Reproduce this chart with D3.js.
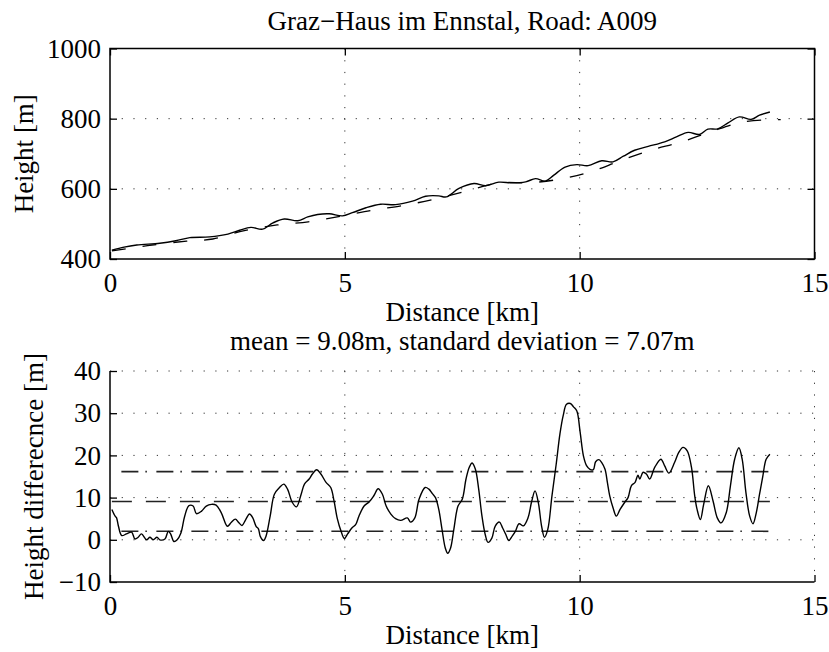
<!DOCTYPE html>
<html>
<head>
<meta charset="utf-8">
<script src="https://cdn.jsdelivr.net/npm/d3@7"></script>
<style>
  html, body { margin: 0; padding: 0; background: #fff; }
  svg { display: block; }
  svg text { font-family: 'Liberation Serif', 'DejaVu Serif', serif !important; fill: #000; }
</style>
</head>
<body>
<svg id="chart" width="829" height="652" font-family="Liberation Serif"></svg>
<script>
// ---------- DATA ----------
const titleTop = "Graz\u2212Haus im Ennstal, Road: A009";
const titleBottom = "mean = 9.08m, standard deviation = 7.07m";
const xLabel = "Distance [km]";
const yLabelTop = "Height [m]";
const yLabelBottom = "Height differecnce [m]";

const xTicks = [0, 5, 10, 15];
const yTicksTop = [400, 600, 800, 1000];
const yTicksBottom = [-10, 0, 10, 20, 30, 40];

// measured road height (solid)
const roadKm = [0.04,0.30,0.57,1.06,1.40,1.70,2.12,2.51,2.76,3.00,3.25,3.47,3.71,4.00,4.21,4.42,4.67,4.95,5.16,5.45,5.76,6.08,6.44,6.72,7.00,7.16,7.43,7.75,8.00,8.28,8.56,8.85,9.06,9.27,9.45,9.69,9.94,10.18,10.47,10.71,10.93,11.17,11.46,11.81,12.06,12.31,12.55,12.73,12.94,13.16,13.40,13.65,13.83,14.05];
const roadHeight = [425,434,440,445,452,461,463,471,482,490,485,503,514,509,520,527,529,523,532,546,556,555,565,579,580,577,601,615,609,619,617,620,629,622,639,662,669,666,680,677,693,710,721,734,748,761,755,770,771,788,805,798,810,819];

// reference height (dashed)
const refKm = [0.04,0.80,1.63,2.19,2.86,3.56,4.22,4.92,5.58,6.26,6.93,7.58,8.28,8.91,9.55,10.22,10.88,11.51,12.15,12.78,13.45,14.10,14.28];
const refHeight = [423,438,451,457,481,497,506,522,539,553,571,593,617,617,627,648,681,710,733,762,790,797,797];

// height difference (bottom plot)
const diffKm = [0.04,0.11,0.14,0.18,0.25,0.35,0.46,0.53,0.60,0.67,0.78,0.85,0.92,1.00,1.06,1.17,1.24,1.29,1.36,1.43,1.51,1.59,1.68,1.77,1.84,1.95,2.05,2.16,2.26,2.37,2.50,2.58,2.67,2.74,2.81,2.89,2.97,3.04,3.11,3.16,3.20,3.27,3.32,3.41,3.50,3.61,3.70,3.78,3.88,3.97,4.07,4.14,4.24,4.31,4.40,4.49,4.60,4.70,4.77,4.84,4.92,4.99,5.06,5.15,5.23,5.30,5.41,5.52,5.62,5.71,5.80,5.88,5.98,6.08,6.19,6.33,6.40,6.49,6.58,6.71,6.79,6.86,6.93,7.00,7.07,7.14,7.19,7.25,7.32,7.41,7.50,7.58,7.65,7.71,7.78,7.85,7.92,7.99,8.05,8.13,8.20,8.29,8.36,8.43,8.49,8.56,8.63,8.71,8.80,8.90,8.98,9.05,9.12,9.19,9.25,9.32,9.41,9.50,9.58,9.65,9.72,9.80,9.87,9.94,10.01,10.08,10.15,10.22,10.29,10.34,10.41,10.47,10.54,10.59,10.64,10.71,10.78,10.86,10.96,11.03,11.10,11.18,11.24,11.28,11.35,11.42,11.49,11.60,11.73,11.81,11.90,12.02,12.11,12.20,12.29,12.38,12.45,12.50,12.57,12.64,12.74,12.84,12.93,13.01,13.12,13.21,13.30,13.39,13.46,13.54,13.62,13.69,13.76,13.83,13.90,13.97,14.05];
const diffValue = [7.2,5.6,5.2,3.2,1.0,1.4,1.8,0.2,0.6,1.4,0.0,0.6,0.0,0.6,0.0,0.2,2.0,1.4,-0.4,0.0,1.6,5.6,8.1,8.0,6.2,6.8,8.0,8.4,8.2,6.4,3.2,4.1,4.9,4.1,3.4,4.8,6.1,5.2,3.2,2.6,0.8,-0.2,0.8,5.6,10.8,12.4,13.2,12.0,8.9,7.8,10.8,13.2,14.4,15.6,16.6,15.6,13.6,12.4,9.2,5.0,2.0,0.3,1.4,2.8,3.6,5.6,8.0,9.0,10.5,12.1,10.8,8.0,6.1,5.0,4.6,5.2,4.2,5.2,9.6,12.4,12.0,11.0,10.0,7.2,2.4,-2.0,-3.2,-2.0,2.4,8.0,9.6,14.4,17.2,18.2,16.7,12.0,5.6,1.2,-0.6,0.4,3.2,4.2,2.8,1.2,-0.2,0.8,2.0,3.8,3.3,5.2,9.2,11.6,8.8,3.2,0.6,2.4,10.4,17.9,25.1,29.5,32.1,32.3,31.5,30.5,25.5,19.9,17.5,16.7,16.6,18.5,19.0,18.3,16.7,13.6,10.4,7.6,5.6,7.2,8.9,10.0,12.8,13.6,15.3,14.4,16.0,15.6,14.4,17.2,19.1,17.5,15.8,18.3,20.7,21.9,21.1,17.2,10.4,7.2,4.8,8.4,12.8,9.2,5.2,4.0,6.4,12.8,19.1,21.8,19.1,11.2,5.6,3.8,6.4,10.8,15.1,19.1,20.3];

// statistics lines: mean - std, mean, mean + std
const statMean = 9.08;
const statLow = 2.01;
const statHigh = 16.15;

// ---------- DRAW ----------
const svg = d3.select("#chart");
const FONT = 27;
const FAMILY = "'Liberation Serif', 'DejaVu Serif', serif";
const L = 110, R = 814.5;
const top1 = 48.5, bot1 = 259;
const top2 = 371, bot2 = 582;
const cx = (L + R) / 2;

const x = d3.scaleLinear().domain([0, 15]).range([L, R]);
const y1 = d3.scaleLinear().domain([400, 1000]).range([bot1, top1]);
const y2 = d3.scaleLinear().domain([-10, 40]).range([bot2, top2]);

const gridStyle = sel => sel.attr("stroke", "#333").attr("stroke-width", 1)
  .attr("stroke-dasharray", "1.2,10.5").attr("fill", "none");

// ---- top plot grid ----
const g1 = svg.append("g");
g1.selectAll(".hg").data(yTicksTop.filter(v => v > 400 && v < 1000)).join("line")
  .attr("x1", L).attr("x2", R).attr("y1", d => y1(d)).attr("y2", d => y1(d)).call(gridStyle);
g1.selectAll(".vg").data(xTicks.filter(v => v > 0 && v < 15)).join("line")
  .attr("x1", d => x(d)).attr("x2", d => x(d)).attr("y1", top1).attr("y2", bot1).call(gridStyle);

// ---- top plot lines ----
const lineTop = d3.line().x(d => x(d[0])).y(d => y1(d[1])).curve(d3.curveCatmullRom.alpha(0.5));
g1.append("path").datum(refKm.map((k, i) => [k, refHeight[i]]))
  .attr("d", lineTop).attr("fill", "none").attr("stroke", "#000").attr("stroke-width", 1.3)
  .attr("stroke-dasharray", "14,17").attr("stroke-dashoffset", 0);
g1.append("path").datum(roadKm.map((k, i) => [k, roadHeight[i]]))
  .attr("d", lineTop).attr("fill", "none").attr("stroke", "#000").attr("stroke-width", 1.4);

// ---- top plot axes ----
const tick = 7;
const ax1b = g1.append("g").attr("transform", `translate(0,${bot1})`)
  .call(d3.axisBottom(x).tickValues(xTicks).tickSize(-tick).tickPadding(14).tickFormat(d3.format("d")));
const ax1l = g1.append("g").attr("transform", `translate(${L},0)`)
  .call(d3.axisLeft(y1).tickValues(yTicksTop).tickSize(-tick).tickPadding(9).tickFormat(d3.format("d")));
const ax1t = g1.append("g").attr("transform", `translate(0,${top1})`)
  .call(d3.axisTop(x).tickValues(xTicks).tickSize(-tick).tickFormat(""));
const ax1r = g1.append("g").attr("transform", `translate(${R},0)`)
  .call(d3.axisRight(y1).tickValues(yTicksTop).tickSize(-tick).tickFormat(""));
[ax1b, ax1l, ax1t, ax1r].forEach(a => {
  a.select(".domain").remove();
  a.attr("font-family", FAMILY).attr("font-size", FONT);
  a.selectAll(".tick line").attr("stroke", "#000").attr("stroke-width", 1.3);
  a.selectAll("text").attr("font-size", FONT).attr("font-family", FAMILY);
});
g1.append("rect").attr("x", L).attr("y", top1).attr("width", R - L).attr("height", bot1 - top1)
  .attr("fill", "none").attr("stroke", "#000").attr("stroke-width", 1.5);

const addText = (g, attrs, str) => {
  const t = g.append("text").attr("font-size", FONT).attr("font-family", FAMILY).attr("text-anchor", "middle");
  Object.entries(attrs).forEach(([k, v]) => t.attr(k, v));
  return t.text(str);
};
addText(g1, { x: cx, y: 30 }, titleTop);
addText(g1, { x: cx, y: 321 }, xLabel);
addText(g1, { transform: `translate(33,${(top1 + bot1) / 2}) rotate(-90)` }, yLabelTop);

// ---- bottom plot grid ----
const g2 = svg.append("g");
g2.selectAll(".hg").data(yTicksBottom.filter(v => v > -10)).join("line")
  .attr("x1", L).attr("x2", R).attr("y1", d => y2(d)).attr("y2", d => y2(d)).call(gridStyle);
g2.selectAll(".vg").data(xTicks.filter(v => v > 0)).join("line")
  .attr("x1", d => x(d)).attr("x2", d => x(d)).attr("y1", top2).attr("y2", bot2).call(gridStyle);

// ---- stat lines ----
const kStart = diffKm[0], kEnd = diffKm[diffKm.length - 1];
const statLines = [
  { v: statHigh, dash: "17,7,1.5,9.5", off: 25.5 },
  { v: statMean, dash: "20,14", off: 0 },
  { v: statLow, dash: "17,7,1.5,9.5", off: 25.5 }
];
g2.selectAll(".stat").data(statLines).join("line")
  .attr("x1", x(kStart)).attr("x2", x(kEnd))
  .attr("y1", d => y2(d.v)).attr("y2", d => y2(d.v))
  .attr("stroke", "#222").attr("stroke-width", 1.6)
  .attr("stroke-dasharray", d => d.dash).attr("stroke-dashoffset", d => d.off);

// ---- difference line ----
const lineBot = d3.line().x(d => x(d[0])).y(d => y2(d[1])).curve(d3.curveCatmullRom.alpha(0.5));
g2.append("path").datum(diffKm.map((k, i) => [k, diffValue[i]]))
  .attr("d", lineBot).attr("fill", "none").attr("stroke", "#000").attr("stroke-width", 1.4);

// ---- bottom axes ----
const ax2b = g2.append("g").attr("transform", `translate(0,${bot2})`)
  .call(d3.axisBottom(x).tickValues(xTicks).tickSize(-tick).tickPadding(14).tickFormat(d3.format("d")));
const ax2l = g2.append("g").attr("transform", `translate(${L},0)`)
  .call(d3.axisLeft(y2).tickValues(yTicksBottom).tickSize(-tick).tickPadding(9).tickFormat(d3.format("d")));
[ax2b, ax2l].forEach(a => {
  a.select(".domain").remove();
  a.attr("font-family", FAMILY).attr("font-size", FONT);
  a.selectAll(".tick line").attr("stroke", "#000").attr("stroke-width", 1.3);
  a.selectAll("text").attr("font-size", FONT).attr("font-family", FAMILY);
});
g2.append("path").attr("d", `M${L},${top2}V${bot2}H${R}`)
  .attr("fill", "none").attr("stroke", "#000").attr("stroke-width", 1.5);

addText(g2, { x: cx, y: 350 }, titleBottom);
addText(g2, { x: cx, y: 644 }, xLabel);
addText(g2, { transform: `translate(43,${(top2 + bot2) / 2}) rotate(-90)` }, yLabelBottom);
</script>
</body>
</html>
